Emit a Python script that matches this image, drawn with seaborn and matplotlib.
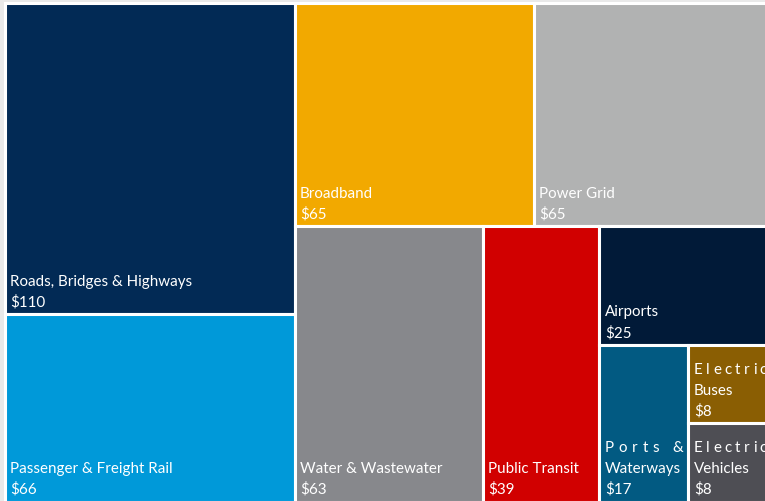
import matplotlib
matplotlib.use("Agg")
import matplotlib.pyplot as plt
from matplotlib.patches import Rectangle
import matplotlib.transforms as mtransforms
import seaborn as sns

# ---- data ----
categories = ["Roads, Bridges & Highways", "Passenger & Freight Rail", "Broadband",
              "Power Grid", "Water & Wastewater", "Public Transit", "Airports",
              "Ports & Waterways", "Electric Buses", "Electric Vehicles"]
values = [110, 66, 65, 65, 63, 39, 25, 17, 8, 8]
value_labels = ["$110", "$66", "$65", "$65", "$63", "$39", "$25", "$17", "$8", "$8"]
colors = ["#022a55", "#0099d9", "#f2a900", "#b1b2b2", "#87888c", "#d10000",
          "#011a38", "#025a82", "#8a5e03", "#4e4e54"]
# how each label wraps (first line is justified when wrapped)
label_lines = [["Roads, Bridges & Highways"], ["Passenger & Freight Rail"], ["Broadband"],
               ["Power Grid"], ["Water & Wastewater"], ["Public Transit"], ["Airports"],
               ["Ports &", "Waterways"], ["Electric", "Buses"], ["Electric", "Vehicles"]]

# nested slice-and-dice structure ('h' = split along x, 'v' = split along y)
layout = ("h", [("v", [0, 1]),
                ("v", [("h", [2, 3]),
                       ("h", [4, 5, ("v", [6, ("h", [7, ("v", [8, 9])])])])])])


def total(node):
    if isinstance(node, int):
        return values[node]
    return sum(total(c) for c in node[1])


rects = {}


def place(node, x, y, w, h):
    if isinstance(node, int):
        rects[node] = (x, y, w, h)
        return
    d, kids = node
    s = total(node)
    pos = 0.0
    for k in kids:
        f = total(k) / s
        if d == "h":
            place(k, x + pos * w, y, f * w, h)
        else:
            place(k, x, y + pos * h, w, f * h)
        pos += f


place(layout, 0.0, 0.0, 1.0, 1.0)

sns.set_theme(style="white")
plt.rcParams["font.family"] = ["Lato", "DejaVu Sans"]

W, H = 765, 502
fig = plt.figure(figsize=(W / 100, H / 100), dpi=100, facecolor="#e9e9e9")
ax = fig.add_axes([4.5 / W, -0.5 / H, 768 / W, 499 / H])
ax.set_xlim(0, 1)
ax.set_ylim(1, 0)
ax.axis("off")
renderer = fig.canvas.get_renderer()

fs = 10.9
pad = 5.5
for i in range(len(values)):
    x, y, w, h = rects[i]
    ax.add_patch(Rectangle((x, y), w, h, facecolor=colors[i], edgecolor="white",
                           linewidth=2.2, clip_on=False))
    lines = list(label_lines[i]) + [value_labels[i]]
    n = len(lines)
    wpx = w * 768
    for j, t in enumerate(lines):
        off = 13 + (n - 1 - j) * 20.5
        justify = (n > 2 and j == 0)
        if not justify:
            tr = ax.transData + mtransforms.ScaledTranslation(pad / 100, off / 100, fig.dpi_scale_trans)
            ax.text(x, y + h, t, transform=tr, color="white", fontsize=fs,
                    va="center", ha="left", clip_on=False)
        else:
            # justified line: spread characters across the cell width
            widths = []
            for ch in t:
                tmp = fig.text(0, 0, ch if ch != " " else "a", fontsize=fs)
                bb = tmp.get_window_extent(renderer)
                tmp.remove()
                widths.append(bb.width if ch != " " else bb.width * 0.5)
            avail = wpx - 2 * pad
            gap = (avail - sum(widths)) / max(len(t) - 1, 1)
            cx = pad
            for ch, cw in zip(t, widths):
                if ch != " ":
                    tr = ax.transData + mtransforms.ScaledTranslation(cx / 100, off / 100, fig.dpi_scale_trans)
                    ax.text(x, y + h, ch, transform=tr, color="white", fontsize=fs,
                            va="center", ha="left", clip_on=False)
                cx += cw + gap

fig.savefig("out.png", dpi=100, facecolor=fig.get_facecolor())
